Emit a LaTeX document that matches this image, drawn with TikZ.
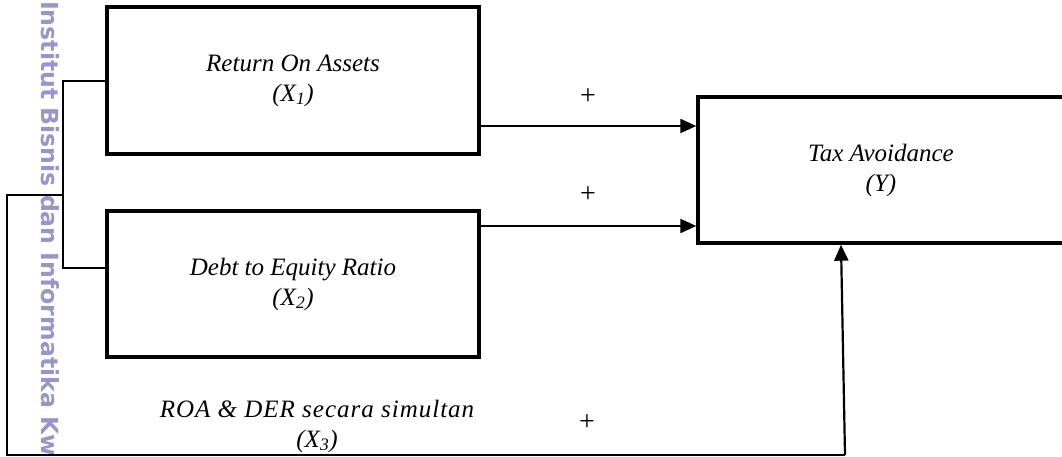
\documentclass[tikz,border=0pt]{standalone}
\usepackage{fontspec}
\setmainfont{Liberation Serif}
\newfontfamily\wmfont{DejaVu Sans}
\usetikzlibrary{arrows.meta}
\definecolor{wmcol}{RGB}{150,150,200}
\begin{document}
\begin{tikzpicture}[x=1pt,y=-1pt,
  box/.style={draw,line width=3.4pt,align=center,inner sep=0pt,
    font=\itshape\fontsize{25}{30}\selectfont},
  lbl/.style={align=center,inner sep=0pt,font=\itshape\fontsize{25}{30}\selectfont},
  plus/.style={inner sep=0pt,font=\fontsize{28}{28}\selectfont},
  arr/.style={line width=2.2pt,-{Triangle[length=16pt,width=14pt]}},
  link/.style={line width=1.8pt},
  wm/.style={rotate=-90,anchor=west,inner sep=0pt}]
\useasboundingbox (0,0) rectangle (1062,457);
% watermark
\node[wm,text=wmcol,font=\wmfont\bfseries\fontsize{23.6}{23.6}\selectfont] (wma) at (50,1) {Institut Bisnis dan Informatika Kw};
% boxes
\node[box,minimum width=372pt,minimum height=147pt] (x1) at (293,80.5) {Return On Assets\\(X\textsubscript{1})};
\node[box,minimum width=372pt,minimum height=146pt] (x2) at (293,284) {Debt to Equity Ratio\\(X\textsubscript{2})};
\node[box,minimum width=366pt,minimum height=146pt] (y) at (881,170) {Tax Avoidance\\(Y)};
\node[lbl] (x3) at (317,426) {\addfontfeatures{LetterSpace=4}ROA \& DER secara simultan\\(X\textsubscript{3})};
% plus signs
\node[plus] (p1) at (588,97) {+};
\node[plus] (p2) at (588,195) {+};
\node[plus] (p3) at (587,423) {+};
% arrows
\coordinate (a1) at (0,126);
\coordinate (a2) at (0,226);
\draw[arr] (x1.east |- a1) -- (y.west |- a1);
\draw[arr] (x2.east |- a2) -- (y.west |- a2);
% bracket
\coordinate (bt) at (63,81);
\coordinate (bb) at (63,268);
\coordinate (bj) at (63,195);
\draw[link] (x1.west |- bt) -- (bt) -- (bb) -- (x2.west |- bb);
% simultaneous path
\coordinate (o1) at (7,195);
\coordinate (o2) at (7,455);
\coordinate (o3) at (845,455);
\coordinate (o4) at (841,0);
\draw[link] (bj) -- (o1) -- (o2) -- (o3);
\draw[arr] (o3) -- (y.south -| o4);
\end{tikzpicture}
\end{document}
